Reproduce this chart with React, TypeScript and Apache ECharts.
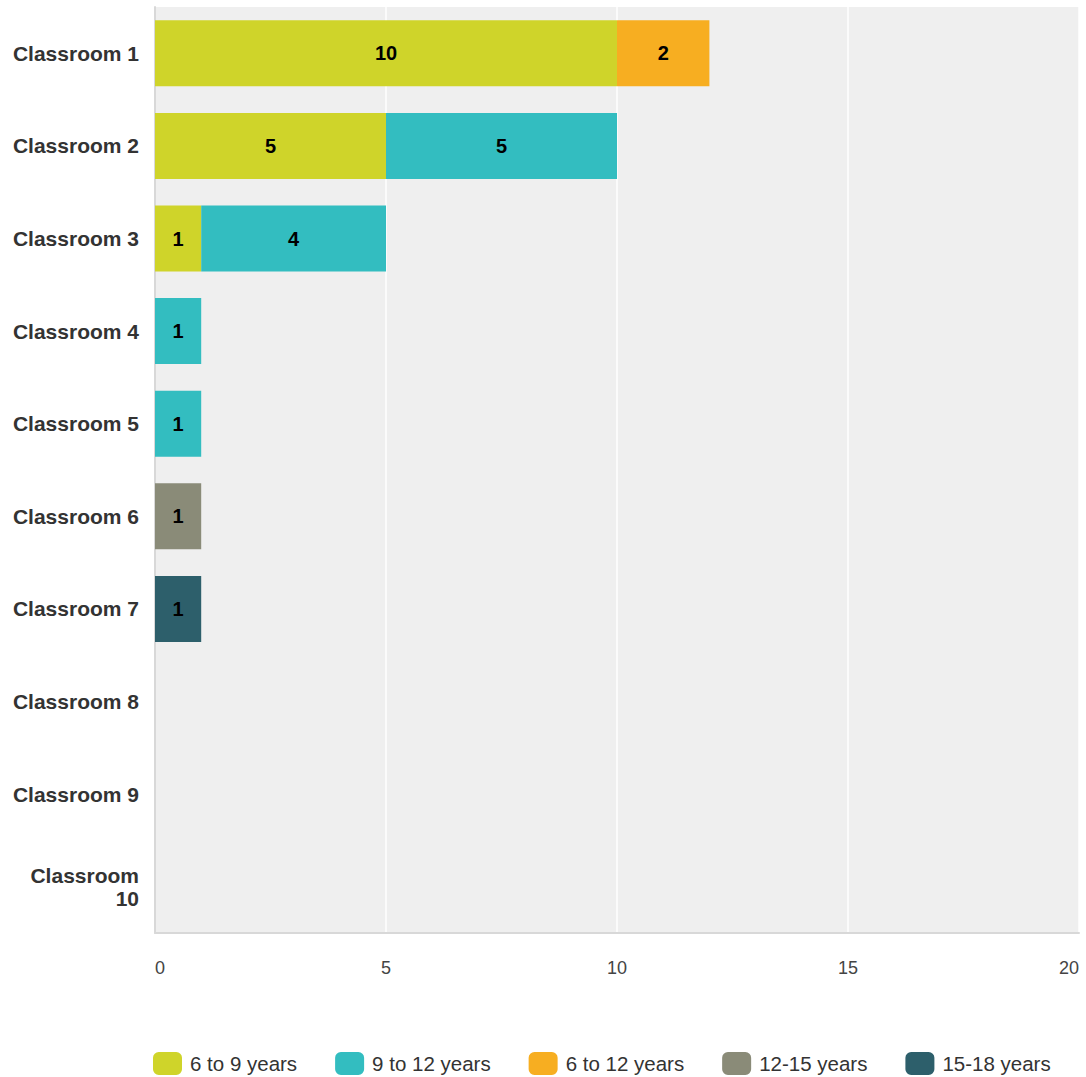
import React, { useEffect, useRef } from "react";
import * as echarts from "echarts";

const categories = [
  "Classroom 1", "Classroom 2", "Classroom 3", "Classroom 4", "Classroom 5",
  "Classroom 6", "Classroom 7", "Classroom 8", "Classroom 9", "Classroom 10",
];
const seriesNames = ["6 to 9 years", "9 to 12 years", "6 to 12 years", "12-15 years", "15-18 years"];
const age6to9 = [10, 5, 1, 0, 0, 0, 0, 0, 0, 0];
const age9to12 = [0, 5, 4, 1, 1, 0, 0, 0, 0, 0];
const age6to12 = [2, 0, 0, 0, 0, 0, 0, 0, 0, 0];
const age12to15 = [0, 0, 0, 0, 0, 1, 0, 0, 0, 0];
const age15to18 = [0, 0, 0, 0, 0, 0, 1, 0, 0, 0];
const xTicks = [0, 5, 10, 15, 20];
const colors = ["#cfd42a", "#33bdc0", "#f7ae21", "#8a8b78", "#2d5f6b"];

export default function App() {
  const ref = useRef<HTMLDivElement>(null);
  useEffect(() => {
    if (!ref.current) return;
    const chart = echarts.init(ref.current, undefined, { renderer: "svg" });
    const values = [age6to9, age9to12, age6to12, age12to15, age15to18];
    chart.setOption({
      animation: false,
      color: colors,
      textStyle: { fontFamily: "Liberation Sans, Arial, sans-serif" },
      grid: {
        left: 155,
        right: 7,
        top: 7,
        bottom: 144,
        show: true,
        backgroundColor: "#efefef",
        borderWidth: 0,
      },
      legend: {
        top: 1052,
        left: 153,
        padding: 0,
        itemWidth: 29,
        itemHeight: 23,
        itemGap: 38,
        icon: "roundRect",
        textStyle: { fontSize: 20.5, color: "#333", padding: [0, 0, 0, 3] },
        data: seriesNames,
      },
      xAxis: {
        type: "value",
        min: xTicks[0],
        max: xTicks[xTicks.length - 1],
        interval: 5,
        axisLine: { show: true, lineStyle: { color: "#d8d8d8", width: 2 } },
        axisTick: { show: false },
        splitLine: { show: true, lineStyle: { color: "#ffffff", width: 1.5 } },
        axisLabel: {
          color: "#444",
          fontSize: 18,
          margin: 26,
          alignMinLabel: "left",
          alignMaxLabel: "right",
        },
      },
      yAxis: {
        type: "category",
        data: categories,
        inverse: true,
        axisLine: { show: true, lineStyle: { color: "#d8d8d8", width: 2 } },
        axisTick: { show: false },
        axisLabel: {
          color: "#333",
          fontSize: 21,
          fontWeight: "bold",
          margin: 16,
          lineHeight: 23,
          formatter: (v: string) => (v.length > 11 ? v.replace(" ", "\n") : v),
        },
      },
      series: seriesNames.map((name, i) => ({
        name,
        type: "bar",
        stack: "total",
        barWidth: 66,
        itemStyle: { color: colors[i] },
        label: {
          show: true,
          position: "inside",
          color: "#000",
          fontSize: 20,
          fontWeight: "bold",
          formatter: (p: any) => (p.value > 0 ? String(p.value) : ""),
        },
        data: values[i].map((v) => (v > 0 ? v : "-")),
      })),
    });
    return () => chart.dispose();
  }, []);
  return (
    <div
      ref={ref}
      style={{ position: "absolute", left: 0, top: 0, width: 1086, height: 1077 }}
    />
  );
}
